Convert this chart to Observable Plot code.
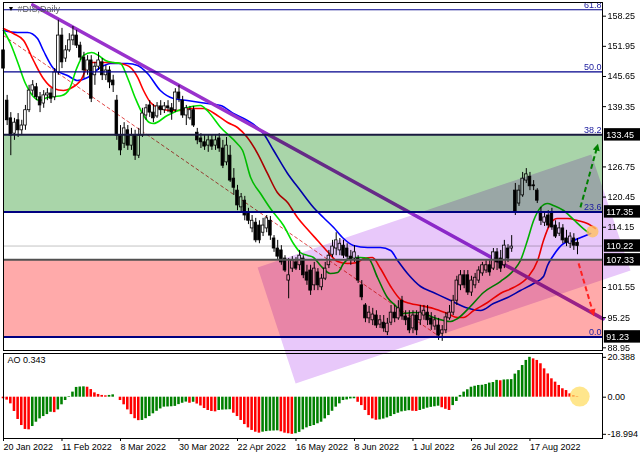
<!DOCTYPE html>
<html><head><meta charset="utf-8">
<script src="https://cdn.jsdelivr.net/npm/d3@7"></script>
<script src="https://cdn.jsdelivr.net/npm/@observablehq/plot@0.6"></script>
<style>
html,body{margin:0;padding:0;background:#fff;}
#wrap{position:relative;width:640px;height:457px;overflow:hidden;}
#main{position:absolute;left:0;top:0;z-index:1;}
#ao{position:absolute;left:0;top:351px;z-index:2;}
svg{display:block;}
</style></head>
<body><div id="wrap"><div id="main"></div><div id="ao"></div></div>
<script>
// ---- candles (daily, 20 Jan 2022 .. end Aug 2022) ----
const opens = [151.1,140.6,136.9,133.7,136.5,134.4,135.4,138.6,142.7,143.4,
141.3,140.0,141.7,142.1,141.3,146.5,154.2,149.4,151.1,153.2,
154.2,152.1,149.6,146.9,149.0,145.9,147.7,148.6,145.9,146.9,
144.8,140.6,133.3,131.6,134.4,131.2,133.3,129.1,133.3,137.5,
139.6,138.1,137.3,139.4,138.6,139.4,139.0,138.6,142.3,140.6,
137.5,136.9,138.6,133.9,132.7,131.9,131.2,132.3,131.2,132.7,
130.6,127.7,129.1,124.3,121.8,118.3,119.7,117.0,113.9,115.1,
114.5,113.0,113.9,115.5,111.8,109.7,109.3,107.6,103.0,105.5,
106.8,106.2,107.6,104.7,105.1,102.0,104.7,101.6,103.4,106.2,
108.4,109.7,109.3,110.3,109.7,108.0,107.6,107.6,102.0,97.8,
95.1,94.7,95.7,93.8,94.2,92.2,94.2,96.3,95.1,98.8,
95.5,95.1,93.0,95.7,94.7,95.7,96.3,95.1,93.4,93.6,
91.9,92.6,95.1,96.3,98.8,102.0,104.1,104.1,100.5,102.0,
103.0,104.5,105.1,106.2,105.5,108.9,107.6,106.2,109.7,109.7,
121.8,119.1,120.8,123.9,124.7,122.9,121.8,117.2,115.1,116.6,
117.2,114.5,112.8,113.9,111.8,110.7,111.8,110.9];
const highs = [153.2,141.7,138.1,136.9,137.9,136.5,139.6,143.8,144.8,144.2,
142.3,142.7,143.1,143.1,147.3,157.4,155.7,152.1,154.6,156.1,
155.3,152.8,150.7,150.0,150.0,148.6,150.7,149.4,147.9,147.7,
145.9,141.7,135.4,136.0,135.4,134.8,134.4,134.8,139.0,139.8,
140.6,139.8,140.2,140.6,140.2,140.6,140.0,143.1,143.8,141.5,
139.6,139.4,139.4,134.8,133.7,133.3,133.3,133.5,133.3,133.7,
132.3,132.9,131.2,126.4,122.9,121.2,120.6,118.1,116.6,116.0,
115.5,116.0,116.6,116.4,112.4,111.4,110.3,108.2,107.6,108.0,
107.8,109.3,108.2,106.2,106.2,106.8,105.5,104.3,106.8,109.3,
111.4,113.0,111.8,111.4,110.7,109.3,110.3,108.2,103.0,98.2,
97.6,97.2,96.7,95.7,95.7,95.1,97.8,97.8,98.8,99.7,
96.7,96.7,96.7,96.7,97.8,97.8,97.8,96.3,95.7,95.1,
93.6,96.3,97.8,99.9,103.9,105.1,105.1,105.1,103.9,104.5,
105.9,106.8,107.2,107.2,109.7,109.7,109.3,111.4,110.5,112.4,
123.3,122.9,125.6,126.4,125.6,123.9,122.2,118.3,117.2,117.6,
118.1,115.5,115.1,114.7,113.5,113.0,112.8,111.8];
const lows = [146.5,135.4,129.1,132.3,132.9,133.3,134.4,138.1,141.7,140.6,
138.1,139.0,140.6,140.0,140.6,145.9,147.3,148.6,150.7,152.1,
151.5,149.0,145.2,145.9,140.2,143.8,146.9,144.8,144.8,143.1,
142.3,132.3,129.1,130.6,130.2,130.2,128.1,128.5,132.9,136.5,
137.1,136.0,136.9,137.5,137.9,138.1,136.5,138.1,140.2,136.9,
135.4,136.5,135.0,131.4,130.6,130.2,129.8,130.2,130.2,129.8,
126.4,127.0,123.5,120.8,117.6,117.2,115.5,114.7,113.0,110.9,
110.7,112.2,113.0,111.4,108.9,107.2,106.2,104.7,99.2,104.7,
105.1,105.1,103.4,102.0,99.9,100.9,100.9,100.9,103.0,105.5,
107.8,108.2,108.2,107.6,107.2,106.2,106.8,102.4,98.8,94.2,
94.0,93.6,93.0,93.0,92.2,91.5,93.6,94.2,94.7,94.7,
93.6,91.9,91.9,91.5,93.6,94.7,93.6,92.6,92.6,90.5,
90.3,91.9,94.7,95.7,97.8,100.9,101.3,99.9,99.7,101.3,
102.4,103.9,104.5,103.9,105.1,105.1,104.7,105.5,106.8,108.9,
116.6,118.5,120.4,123.3,121.8,121.8,119.1,114.5,114.3,113.9,
113.5,111.8,112.2,110.7,110.1,109.7,109.3,108.4];
const closes = [147.3,136.5,133.3,136.0,134.4,135.4,138.6,142.7,143.8,141.3,
139.6,141.7,142.1,141.0,146.5,154.2,148.6,151.1,153.2,154.2,
152.1,149.6,146.9,149.0,141.0,147.7,149.0,145.9,146.9,144.4,
143.8,133.3,130.2,134.8,131.2,133.3,129.1,133.3,137.9,139.0,
138.1,136.9,139.4,138.6,139.4,139.0,138.1,142.3,141.0,137.5,
139.0,138.6,135.4,132.3,131.9,131.0,132.3,131.0,132.3,130.6,
127.0,131.2,123.9,122.4,118.7,120.4,116.6,115.5,115.5,111.4,
111.4,114.5,116.0,112.4,109.7,108.0,106.8,105.1,104.1,107.2,
105.5,108.2,104.1,103.0,100.9,105.5,102.0,103.4,105.5,108.2,
110.1,111.4,110.7,108.2,108.0,107.4,108.9,103.0,99.5,95.1,
96.3,95.9,93.6,94.7,93.0,94.0,96.3,95.1,97.2,95.5,
94.7,92.6,95.7,92.6,96.3,96.7,94.7,93.8,94.7,91.5,
92.6,95.3,96.3,98.8,103.0,104.1,102.0,100.5,103.0,103.6,
105.1,106.2,106.2,104.7,108.9,106.8,105.5,110.3,107.6,110.1,
117.2,121.8,124.3,125.2,122.7,122.7,119.7,115.5,116.2,114.5,
114.1,112.2,113.9,111.4,110.9,112.2,110.3,110.22];

// ---- Awesome Oscillator ----
const ao = [-0.8,-1.5,-3.4,-7.3,-11.4,-14.5,-16.5,-16.7,-15.0,-12.8,
-11.1,-9.9,-8.9,-7.7,-7.9,-6.5,-3.9,-1.7,0.3,2.6,
5.0,5.2,5.3,5.1,3.9,2.2,1.4,0.9,0.7,0.9,
1.2,0.0,-1.7,-3.9,-6.5,-8.9,-11.0,-12.0,-11.9,-11.0,
-9.9,-8.5,-7.2,-6.0,-5.1,-5.0,-4.9,-4.7,-3.8,-3.1,
-2.5,-3.1,-2.6,-3.5,-4.5,-5.8,-6.8,-7.3,-7.5,-6.8,
-6.6,-6.5,-6.4,-8.2,-9.9,-11.9,-14.0,-15.7,-17.0,-17.9,
-18.4,-17.9,-17.6,-17.4,-17.3,-17.2,-17.7,-18.4,-18.7,-19.0,
-18.7,-18.0,-16.7,-15.7,-15.0,-14.5,-13.6,-12.8,-11.1,-9.4,
-7.2,-5.1,-3.4,-1.7,-1.4,-0.9,-0.8,-2.6,-4.3,-6.8,
-9.4,-11.1,-11.8,-11.6,-11.2,-10.6,-9.9,-8.9,-8.2,-7.5,
-7.2,-6.9,-7.2,-7.3,-6.8,-6.2,-5.6,-5.2,-4.9,-4.6,
-5.4,-6.2,-6.8,-4.3,-2.2,0.9,2.6,3.8,5.1,5.6,
6.0,6.1,6.5,7.2,7.5,8.6,8.4,8.8,8.9,9.0,
11.8,13.6,16.2,18.8,20.4,19.6,18.8,17.1,14.5,11.9,
9.4,7.7,6.0,4.3,3.4,1.7,0.85,0.343];

// ---- Alligator lines (bar index, price) ----
const lipsBar = [0,1.9,4.0,6.0,7.9,10.0,12.0,13.9,16.0,18.1,20.0,21.9,24.1,26.0,27.9,30.1,32.0,33.9,36.1,38.0,39.9,41.0,44.8,49.3,53.9,55.7,59.4,63.9,65.4,67.6,70.3,73.0,76.6,79.3,81.2,83.2,84.8,86.7,89.4,91.4,93.0,95.5,97.6,99.8,102.3,105.0,107.2,109.4,112.1,114.9,117.6,120.4,122.3,124.2,127.7,131.3,135.9,139.5,141.4,143.3,145.0,146.9,148.8,150.4,153.2,155.9,158.6,160.0];
const lipsPrice = [155.26,152.54,148.36,144.18,141.68,140.63,141.26,141.47,141.68,143.14,147.32,150.04,150.66,150.04,148.99,148.57,148.36,145.44,141.05,137.91,136.03,135.82,137.50,138.96,139.59,138.54,134.99,131.64,130.18,124.54,121.19,118.06,114.51,110.75,108.87,108.24,107.82,106.15,104.48,104.69,106.57,107.82,107.82,107.61,103.64,99.46,97.79,96.12,96.33,96.12,95.28,94.65,94.45,95.07,97.58,100.51,102.80,105.10,107.19,111.37,115.55,118.27,119.11,118.69,117.64,115.76,113.88,113.05];
const teethBar = [0,2.7,5.5,8.2,10.9,13.7,16.4,18.3,21.1,23.8,26.5,29.3,32.0,34.7,36.7,38.3,40.2,42.9,45.7,48.4,51.1,54.7,58.5,61.3,64.0,66.7,69.5,72.2,74.9,77.7,80.4,83.2,85.9,88.6,91.4,94.1,96.8,98.5,100.9,103.1,105.9,108.6,111.3,114.1,117.6,121.4,124.2,125.8,128.6,132.4,135.9,139.5,143.3,146.1,147.7,149.6,151.5,154.3,157.0,159.7,161.9];
const teethPrice = [155.68,154.63,153.17,148.99,145.23,143.14,142.72,143.14,144.81,148.57,148.57,148.57,148.36,147.53,145.44,142.72,140.21,138.96,138.54,138.54,138.96,138.96,137.50,136.03,134.99,132.90,129.55,125.38,121.40,119.31,116.18,113.67,111.37,109.07,106.98,106.57,106.78,107.61,107.82,105.52,101.76,99.04,98.21,97.79,97.16,96.12,95.28,95.28,96.74,98.42,100.30,101.55,103.64,107.19,111.37,114.93,115.97,115.97,115.55,114.93,113.88];
const jawBar = [0,3.8,6.6,9.3,10.9,13.7,17.5,20.2,23.0,26.5,29.3,33.9,36.7,39.4,42.9,46.5,50.3,55.8,59.4,62.9,66.7,71.1,73.9,77.7,81.2,84.8,87.5,90.3,93.0,95.7,99.6,103.1,105.9,107.8,110.5,114.1,117.6,122.3,126.4,130.5,134.0,137.9,141.4,145.0,147.7,148.8,150.4,153.2,155.9,158.6,160.6];
const jawPrice = [155.26,154.84,154.84,153.59,151.08,147.32,145.86,144.81,145.44,147.53,148.36,148.36,147.95,146.27,142.72,141.05,140.63,140.00,139.59,137.91,136.45,133.73,130.18,125.38,121.82,118.27,116.18,114.09,111.79,110.33,109.91,109.91,109.28,107.19,104.48,101.76,100.51,98.83,97.37,96.74,98.21,99.46,100.92,102.39,103.85,106.15,108.24,110.75,111.37,112.21,112.84];

// ---- drawn objects ----
const fibLevels = [159.6, 146.6, 133.45, 117.35, 91.23];
const fibLabels = ["61.8", "50.0", "38.2", "23.6", "0.0"];
const greenZone = [117.35, 133.45];
const pinkZone = [91.23, 107.33];
const currentPrice = 110.22;
const priceBoxes = [133.45, 117.35, 110.22, 107.33, 91.23];
const channelBar = [69.5, 79.9, 171.5, 160.8, 69.5];
const channelPrice = [105.73, 81.49, 105.10, 129.35, 105.73];
const trendBar = [8, 164];
const trendPrice = [160.6, 95.0];
const dashBar = [0, 120];
const dashPrice = [154.2, 90.9];
const upArrow = [157.8, 118.3, 162.4, 131.0];
const downArrow = [157.3, 106.6, 161.3, 96.2];
const priceMarker = [161.1, 113.25];
const aoMarker = [157.6, 0.3];

// ---- axes ----
const priceTicks = [158.25, 151.95, 145.65, 139.35, 126.75, 120.45, 114.15, 101.55, 95.25, 88.95];
const aoTicks = [20.388, 0, -18.994];
const aoTickLabels = ["20.388", "0.00", "-18.994"];
const dateTicks = [0, 16, 32, 48, 64, 80, 96, 112, 128, 144];
const dateLabels = ["20 Jan 2022","11 Feb 2022","8 Mar 2022","30 Mar 2022","22 Apr 2022","16 May 2022","8 Jun 2022","1 Jul 2022","26 Jul 2022","17 Aug 2022"];

const idx = d3.range(closes.length);
const fmt2 = d3.format(".2f");
const FONT = "font-family: 'Liberation Sans', Arial, sans-serif; font-size: 9px;";
const xDomain = [0, 163.84];
const rightEdge = xDomain[1];
const half = 0.36;

const pts = (xs, ys) => xs.map((x, i) => ({x, y: ys[i]}));

const main = Plot.plot({
  width: 640, height: 351,
  marginLeft: 3, marginRight: 38, marginTop: 2, marginBottom: 1,
  style: "overflow: visible; background: transparent; " + FONT,
  x: {domain: xDomain, axis: null},
  y: {domain: [88.39, 161.11]},
  marks: [
    Plot.ruleY([currentPrice], {stroke: "#c4c4c4", strokeWidth: 1}),
    Plot.line(pts(dashBar, dashPrice), {x: "x", y: "y", stroke: "#e04848", strokeWidth: 1, strokeDasharray: "3,3"}),
    Plot.line(pts(jawBar, jawPrice), {x: "x", y: "y", stroke: "#0000ff", strokeWidth: 1.6, curve: "monotone-x"}),
    Plot.line(pts(teethBar, teethPrice), {x: "x", y: "y", stroke: "#ff0000", strokeWidth: 1.6, curve: "monotone-x"}),
    Plot.line(pts(lipsBar, lipsPrice), {x: "x", y: "y", stroke: "#00e000", strokeWidth: 1.6, curve: "monotone-x"}),
    Plot.line(pts(trendBar, trendPrice), {x: "x", y: "y", stroke: "#9932cc", strokeWidth: 3.5}),
    Plot.ruleX(idx, {x: i => i, y1: i => lows[i], y2: i => highs[i], stroke: "#000", strokeWidth: 1}),
    Plot.rect(idx, {filter: i => closes[i] >= opens[i], x1: i => i - half, x2: i => i + half, y1: i => opens[i], y2: i => closes[i], fill: "#fff", stroke: "#000", strokeWidth: 0.8}),
    Plot.rect(idx, {filter: i => closes[i] < opens[i], x1: i => i - half, x2: i => i + half, y1: i => opens[i], y2: i => closes[i], fill: "#000", stroke: "#000", strokeWidth: 0.8}),
    Plot.rect([greenZone], {y1: d => d[0], y2: d => d[1], fill: "#a9d5a9", mixBlendMode: "multiply"}),
    Plot.rect([pinkZone], {y1: d => d[0], y2: d => d[1], fill: "#ffaaaa", mixBlendMode: "multiply"}),
    Plot.line(pts(channelBar, channelPrice), {x: "x", y: "y", fill: "#e8c8fa", stroke: "none", mixBlendMode: "multiply"}),
    Plot.ruleY(fibLevels.slice(0, 2), {stroke: "#00008b", strokeWidth: 1.2}),
    Plot.ruleY([greenZone[1]], {stroke: "#1a1a40", strokeWidth: 2}),
    Plot.ruleY([greenZone[0]], {stroke: "#000080", strokeWidth: 2}),
    Plot.ruleY([pinkZone[1]], {stroke: "#505050", strokeWidth: 2}),
    Plot.ruleY([pinkZone[0]], {stroke: "#000080", strokeWidth: 2}),
    Plot.text(fibLevels, {x: () => rightEdge, y: d => d, text: (d, i) => fibLabels[i], textAnchor: "end", dx: -1, dy: -5, fill: "#2020a0", fontSize: 9}),
    Plot.link([upArrow], {x1: d => d[0], y1: d => d[1], x2: d => d[2], y2: d => d[3], stroke: "#008000", strokeWidth: 2, strokeDasharray: "5,3"}),
    Plot.text([upArrow], {x: d => d[2], y: d => d[3], text: () => "▲", rotate: 14, fill: "#008000", fontSize: 12}),
    Plot.link([downArrow], {x1: d => d[0], y1: d => d[1], x2: d => d[2], y2: d => d[3], stroke: "#ff2020", strokeWidth: 2, strokeDasharray: "5,3"}),
    Plot.text([downArrow], {x: d => d[2], y: d => d[3], text: () => "▲", rotate: 164, fill: "#ff2020", fontSize: 12}),
    Plot.dot([priceMarker], {x: d => d[0], y: d => d[1], r: 6, fill: "#ffc060", fillOpacity: 0.8, stroke: "none"}),
    Plot.axisY({ticks: priceTicks, anchor: "right", tickSize: 3, tickPadding: 2, tickFormat: fmt2, label: null, fontSize: 9}),
    Plot.rect(priceBoxes, {x1: () => 164.35, x2: () => 174.5, y1: d => d - 1.3, y2: d => d + 1.3, fill: "#000"}),
    Plot.text(priceBoxes, {x: () => 164.35, y: d => d, text: d => fmt2(d), textAnchor: "start", dx: 2, fill: "#fff", fontSize: 9}),
    Plot.frame({stroke: "#000"}),
    Plot.text(["▼"], {frameAnchor: "top-left", dx: 4, dy: 4, lineAnchor: "top", textAnchor: "start", fontSize: 7, fill: "#000"}),
    Plot.text(["#DIS,Daily"], {frameAnchor: "top-left", dx: 14, dy: 3, lineAnchor: "top", textAnchor: "start", fontSize: 9, fill: "#606060"})
  ]
});
document.getElementById("main").appendChild(main);

const aoPlot = Plot.plot({
  width: 640, height: 106,
  marginLeft: 3, marginRight: 38, marginTop: 2, marginBottom: 19,
  style: "overflow: visible; background: transparent; " + FONT,
  x: {domain: xDomain},
  y: {domain: [-21.13, 22.35]},
  marks: [
    Plot.rect(idx, {filter: i => i > 0 && ao[i] > ao[i - 1], x1: i => i - 0.35, x2: i => i + 0.35, y1: () => 0, y2: i => ao[i], fill: "#008000"}),
    Plot.rect(idx, {filter: i => !(i > 0 && ao[i] > ao[i - 1]), x1: i => i - 0.35, x2: i => i + 0.35, y1: () => 0, y2: i => ao[i], fill: "#ff0000"}),
    Plot.dot([aoMarker], {x: d => d[0], y: d => d[1], r: 10, fill: "#ffdd66", fillOpacity: 0.75, stroke: "none"}),
    Plot.text(["AO " + ao[ao.length - 1]], {frameAnchor: "top-left", dx: 4, dy: 3, lineAnchor: "top", textAnchor: "start", fontSize: 9, fill: "#000"}),
    Plot.axisY({ticks: aoTicks, anchor: "right", tickSize: 3, tickPadding: 2, tickFormat: d => aoTickLabels[aoTicks.indexOf(d)], label: null, fontSize: 9}),
    Plot.axisX({ticks: dateTicks, anchor: "bottom", tickSize: 3, tickPadding: 2, tickFormat: d => dateLabels[dateTicks.indexOf(d)], textAnchor: "start", label: null, fontSize: 9}),
    Plot.frame({stroke: "#000"})
  ]
});
document.getElementById("ao").appendChild(aoPlot);
</script>
</body></html>
